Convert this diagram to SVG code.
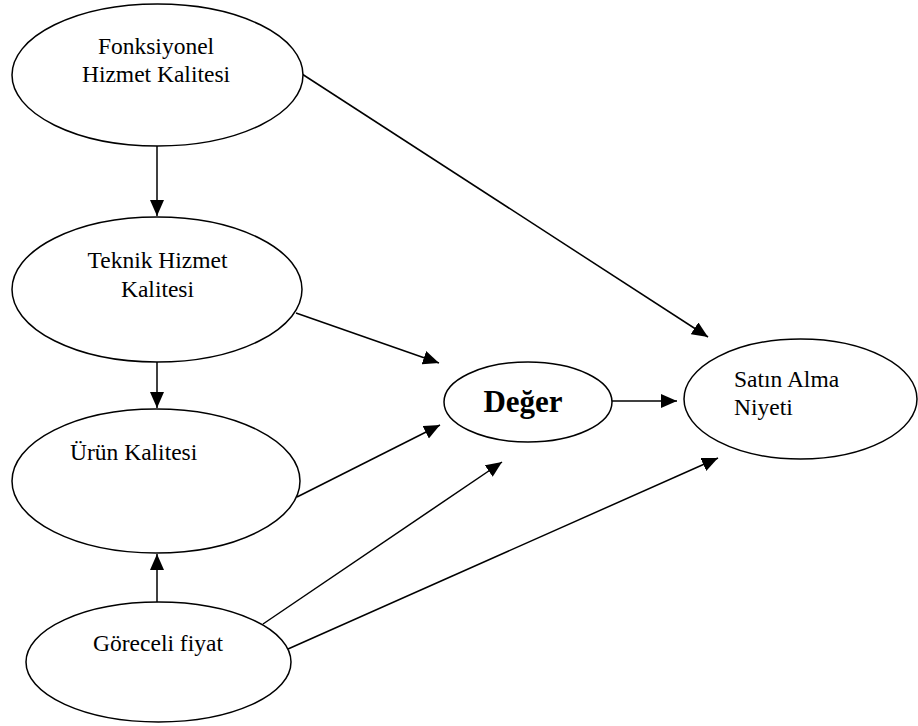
<svg xmlns="http://www.w3.org/2000/svg" width="918" height="726" viewBox="0 0 918 726">
  <style>
    .node { fill: #ffffff; stroke: #000000; stroke-width: 1.5; }
    .label { font-family: "Liberation Serif", "Times New Roman", serif; font-size: 23.5px; fill: #000000; }
    .mid { text-anchor: middle; }
    .bold { font-weight: bold; font-size: 31px; }
    .edge { stroke: #000000; stroke-width: 1.5; fill: none; marker-end: url(#arrow); }
  </style>
  <defs>
    <marker id="arrow" markerUnits="userSpaceOnUse" markerWidth="17" markerHeight="15" refX="16" refY="7" orient="auto">
      <path d="M0,0 L16,7 L0,14 z" fill="#000000"/>
    </marker>
  </defs>
  <rect width="918" height="726" fill="#ffffff"/>

  <g id="connectors">
    <line class="edge" x1="157" y1="146" x2="157" y2="216"/>
    <line class="edge" x1="157" y1="362" x2="157" y2="408"/>
    <line class="edge" x1="157" y1="602" x2="157" y2="554"/>
    <line class="edge" x1="302" y1="74" x2="708" y2="337"/>
    <line class="edge" x1="296" y1="313" x2="439" y2="363"/>
    <line class="edge" x1="297" y1="497" x2="440" y2="425"/>
    <line class="edge" x1="263" y1="624" x2="502" y2="462"/>
    <line class="edge" x1="288" y1="649" x2="718" y2="458"/>
    <line class="edge" x1="612" y1="401" x2="677" y2="401"/>
  </g>

  <g id="fonksiyonel">
    <ellipse class="node" cx="157.5" cy="75" rx="145.5" ry="71"/>
    <text class="label mid" x="156" y="54">Fonksiyonel</text>
    <text class="label mid" x="156" y="82">Hizmet Kalitesi</text>
  </g>

  <g id="teknik">
    <ellipse class="node" cx="157" cy="289.5" rx="145" ry="72.5"/>
    <text class="label mid" x="157.5" y="268">Teknik Hizmet</text>
    <text class="label mid" x="157.5" y="297">Kalitesi</text>
  </g>

  <g id="urun">
    <ellipse class="node" cx="156" cy="481" rx="144" ry="72"/>
    <text class="label" x="70" y="460">Ürün Kalitesi</text>
  </g>

  <g id="goreceli">
    <ellipse class="node" cx="158.5" cy="662" rx="132.5" ry="60"/>
    <text class="label mid" x="158" y="651">Göreceli fiyat</text>
  </g>

  <g id="deger">
    <ellipse class="node" cx="528" cy="402" rx="84" ry="40"/>
    <text class="label mid bold" x="523" y="412">Değer</text>
  </g>

  <g id="satin-alma">
    <ellipse class="node" cx="800.5" cy="399" rx="116.5" ry="60"/>
    <text class="label" x="734" y="387">Satın Alma</text>
    <text class="label" x="734" y="415">Niyeti</text>
  </g>
</svg>
